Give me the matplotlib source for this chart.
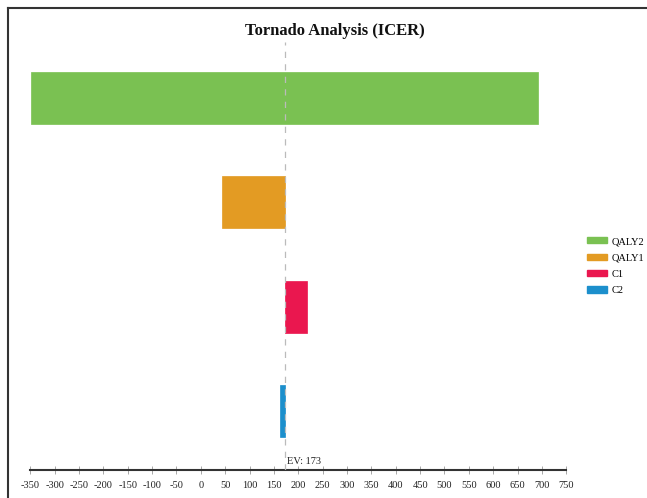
import matplotlib
matplotlib.use("Agg")
import matplotlib.pyplot as plt
from matplotlib.patches import Patch
from matplotlib.lines import Line2D

# Data
categories = ["QALY2", "QALY1", "C1", "C2"]
low_values = [-348, 43, 173, 163]
high_values = [692, 173, 218, 173]
colors = ["#7AC152", "#E39B23", "#EA174F", "#1C8FCC"]
ev_value = 173
x_ticks = list(range(-350, 751, 50))

plt.rcParams["font.family"] = ["Liberation Serif", "DejaVu Serif"]

W, H = 647, 498
fig = plt.figure(figsize=(W / 100, H / 100), dpi=100)

def fx(px):
    return px / W

def fy(py):
    return 1 - py / H

ax_left, ax_right = fx(30.3), fx(566.3)
ax_bottom, ax_top = fy(470), fy(42)
ax = fig.add_axes([ax_left, ax_bottom, ax_right - ax_left, ax_top - ax_bottom])

n = len(categories)
ypos = [n - 1 - i for i in range(n)]
for y, lo, hi, c in zip(ypos, low_values, high_values, colors):
    ax.barh(y, hi - lo, left=lo, height=0.5, color=c, edgecolor=c, linewidth=0.5)

ax.axvline(ev_value, color="#BBBBBB", linestyle=(0, (5, 5)), linewidth=0.9, zorder=3)
ax.text(ev_value + 3, -0.48, "EV: 173", fontsize=7.5, ha="left", va="center", color="#222222")

ax.set_xlim(-350, 750)
ax.set_ylim(-0.5655, 3.537)
ax.set_xticks(x_ticks)
ax.set_xticklabels([str(t) for t in x_ticks], fontsize=7.5, color="#222222")
ax.set_yticks([])
for s in ["top", "right", "left"]:
    ax.spines[s].set_visible(False)
ax.spines["bottom"].set_color("#333333")
ax.spines["bottom"].set_linewidth(1.5)
ax.tick_params(axis="x", direction="inout", length=6, width=0.6, color="#999999", pad=5)

fig.text(fx(335), fy(31), "Tornado Analysis (ICER)", fontsize=12, fontweight="bold",
         ha="center", va="center", color="#111111")

handles = [Patch(facecolor=c, edgecolor=c, label=l) for c, l in zip(colors, categories)]
fig.legend(handles=handles, loc="upper left", bbox_to_anchor=(fx(587), fy(237)),
           frameon=False, fontsize=7.5, handlelength=1.95, handleheight=0.55,
           handletextpad=0.45, labelspacing=0.71, borderpad=0, borderaxespad=0)

# figure border lines (left and top)
fig.add_artist(Line2D([fx(8), fx(8)], [0, fy(8)], color="#333333", linewidth=1.5))
fig.add_artist(Line2D([fx(8), 1], [fy(8), fy(8)], color="#333333", linewidth=1.5))

fig.savefig("out.png", dpi=100)
